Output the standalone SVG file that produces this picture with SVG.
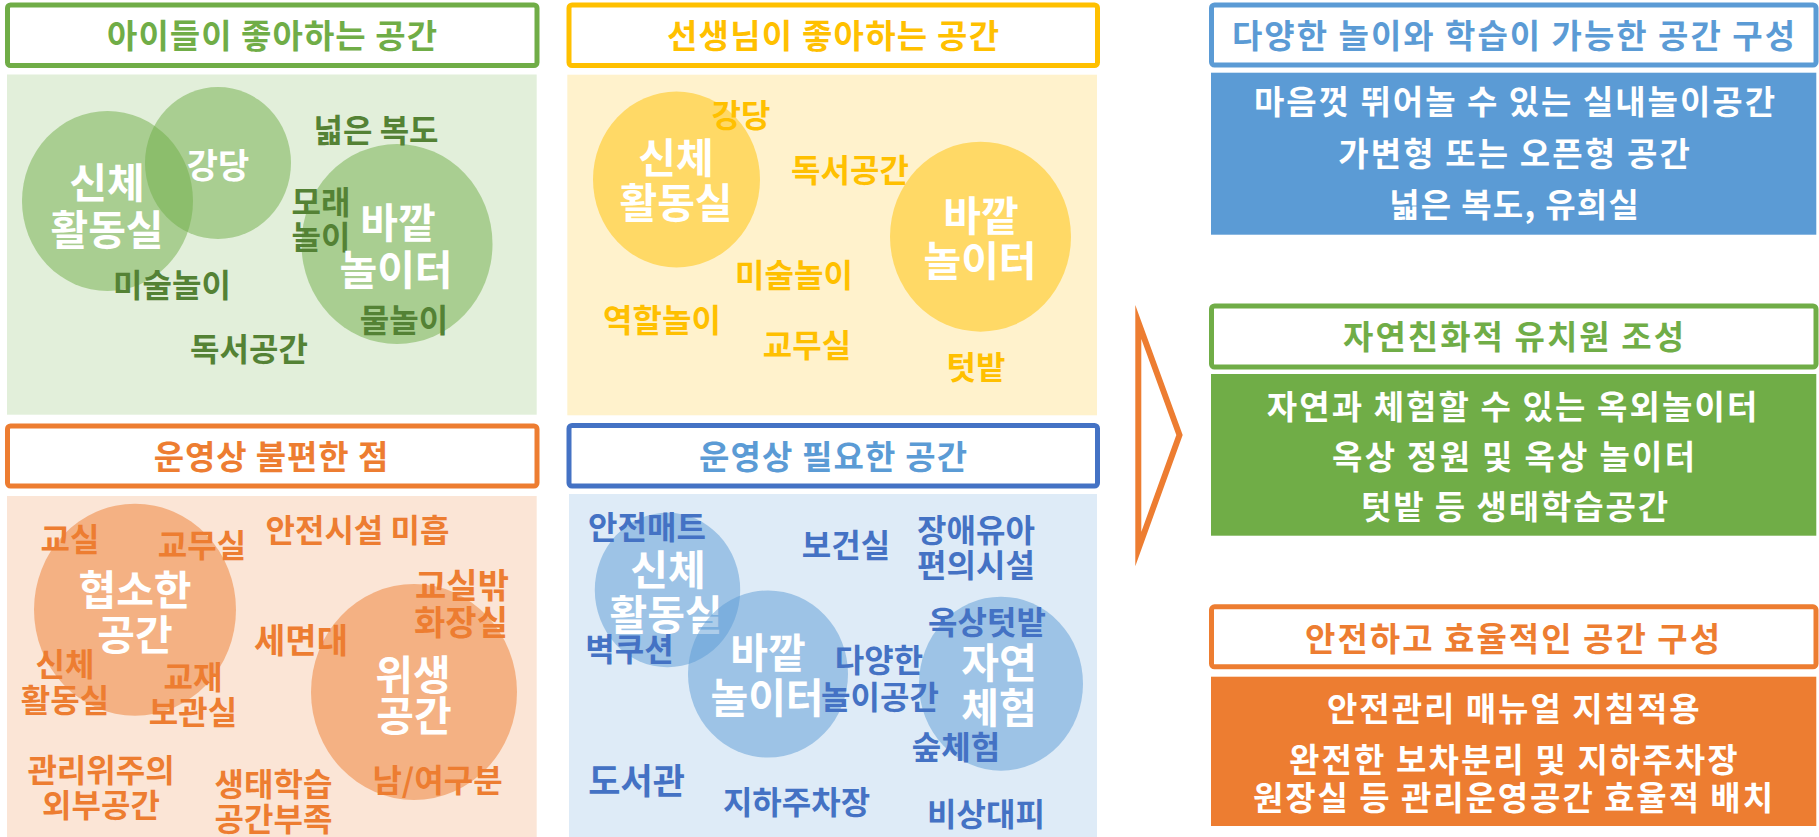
<svg xmlns="http://www.w3.org/2000/svg" width="1819" height="837" viewBox="0 0 1819 837">
<style>
text{font-family:"Noto Sans CJK KR","Noto Sans",sans-serif;font-weight:700;text-anchor:middle;dominant-baseline:central}
.tbox{fill:#fff;stroke-width:5}
.t{font-size:33px}
.l{font-size:32px}
.w{font-size:41px;fill:#fff}
.r{font-size:33px;fill:#fff}
.g{fill:#548235}.y{fill:#FFC000}.o{fill:#ED7D31}.b{fill:#4472C4}
</style>
<rect width="1819" height="837" fill="#fff"/>

<g id="panel-children">
<rect class="tbox" x="7.5" y="5" width="529.5" height="60.5" rx="3" stroke="#70AD47"/>
<text class="t" x="272" y="34" fill="#70AD47" textLength="330" lengthAdjust="spacing">아이들이 좋아하는 공간</text>
<rect x="7" y="74.5" width="529.7" height="340.2" fill="#E2EFDA"/>
<ellipse cx="107.5" cy="201" rx="85.5" ry="90" fill="#70AD47" fill-opacity="0.5"/>
<ellipse cx="218" cy="163" rx="73" ry="76" fill="#70AD47" fill-opacity="0.5"/>
<ellipse cx="397" cy="244" rx="95.5" ry="100" fill="#70AD47" fill-opacity="0.5"/>
<text class="w" x="107" y="180">신체</text>
<text class="w" x="107" y="227">활동실</text>
<text class="w" x="218" y="163" style="font-size:34px">강당</text>
<text class="l g" x="376" y="128">넓은 복도</text>
<text class="l g" x="321" y="200">모래</text>
<text class="l g" x="321" y="235">놀이</text>
<text class="w" x="398" y="220">바깥</text>
<text class="w" x="396" y="267">놀이터</text>
<text class="l g" x="172" y="283">미술놀이</text>
<text class="l g" x="404" y="318">물놀이</text>
<text class="l g" x="249" y="347">독서공간</text>
</g>

<g id="panel-teachers">
<rect class="tbox" x="569" y="5" width="528.5" height="60.5" rx="3" stroke="#FFC000"/>
<text class="t" x="833" y="34" fill="#FFC000" textLength="332" lengthAdjust="spacing">선생님이 좋아하는 공간</text>
<rect x="567.3" y="74.7" width="529.7" height="340.6" fill="#FFF2CC"/>
<ellipse cx="676.5" cy="179.5" rx="83.5" ry="88" fill="#FFD966"/>
<ellipse cx="980.5" cy="236.7" rx="90.5" ry="95" fill="#FFD966"/>
<text class="l y" x="741" y="113">강당</text>
<text class="w" x="676" y="155">신체</text>
<text class="w" x="676" y="200">활동실</text>
<text class="l y" x="850" y="168">독서공간</text>
<text class="w" x="981" y="213">바깥</text>
<text class="w" x="980" y="258">놀이터</text>
<text class="l y" x="794" y="273">미술놀이</text>
<text class="l y" x="662" y="318">역할놀이</text>
<text class="l y" x="807" y="343">교무실</text>
<text class="l y" x="976" y="365">텃밭</text>
</g>

<g id="panel-inconvenient">
<rect class="tbox" x="7.5" y="426" width="529.5" height="60" rx="3" stroke="#ED7D31"/>
<text class="t" x="271" y="455" fill="#ED7D31" textLength="234.6" lengthAdjust="spacing">운영상 불편한 점</text>
<rect x="7" y="496" width="529.7" height="341" fill="#FBE5D6"/>
<ellipse cx="135" cy="609.7" rx="101" ry="106" fill="#F4B183"/>
<ellipse cx="414" cy="692" rx="103" ry="108" fill="#F4B183"/>
<text class="l o" x="70" y="536.7">교실</text>
<text class="l o" x="202" y="543">교무실</text>
<text class="l o" x="357.5" y="528">안전시설 미흡</text>
<text class="w" x="135" y="586.7">협소한</text>
<text class="w" x="135" y="631.7">공간</text>
<text class="l o" x="462" y="583" style="font-size:34px">교실밖</text>
<text class="l o" x="461" y="620" style="font-size:34px">화장실</text>
<text class="l o" x="301" y="638" style="font-size:34px">세면대</text>
<text class="l o" x="65" y="661.7">신체</text>
<text class="l o" x="65" y="698">활동실</text>
<text class="l o" x="193" y="675">교재</text>
<text class="l o" x="193" y="710">보관실</text>
<text class="w" x="413" y="671.7">위생</text>
<text class="w" x="414" y="713">공간</text>
<text class="l o" x="101" y="768">관리위주의</text>
<text class="l o" x="101" y="803">외부공간</text>
<text class="l o" x="273.5" y="781.7">생태학습</text>
<text class="l o" x="273.5" y="816.7">공간부족</text>
<text class="l o" x="437.5" y="778">남/여구분</text>
</g>

<g id="panel-needed">
<rect class="tbox" x="569" y="425.5" width="528.5" height="60.5" rx="3" stroke="#4472C4"/>
<text class="t" x="833" y="455" fill="#5B9BD5" textLength="268" lengthAdjust="spacing">운영상 필요한 공간</text>
<rect x="569" y="494" width="528" height="343" fill="#DEEBF7"/>
<ellipse cx="667.5" cy="590" rx="72.7" ry="77.3" fill="#5B9BD5" fill-opacity="0.5"/>
<text class="w" x="668" y="566.7">신체</text>
<text class="w" x="666" y="611.7">활동실</text>
<ellipse cx="768" cy="674" rx="80" ry="83.5" fill="#5B9BD5" fill-opacity="0.5"/>
<ellipse cx="1001" cy="683.7" rx="82" ry="87" fill="#5B9BD5" fill-opacity="0.5"/>
<text class="l b" x="647" y="525">안전매트</text>
<text class="l b" x="846" y="543">보건실</text>
<text class="l b" x="976" y="528">장애유아</text>
<text class="l b" x="976" y="563">편의시설</text>
<text class="l b" x="987" y="620">옥상텃밭</text>
<text class="l b" x="629.5" y="646.7">벽쿠션</text>
<text class="w" x="768" y="650">바깥</text>
<text class="w" x="767" y="695">놀이터</text>
<text class="l b" x="879" y="658">다양한</text>
<text class="l b" x="880" y="695">놀이공간</text>
<text class="w" x="999" y="660">자연</text>
<text class="w" x="999" y="705">체험</text>
<text class="l b" x="956" y="745">숲체험</text>
<text class="l b" x="636.6" y="778" style="font-size:35px">도서관</text>
<text class="l b" x="796.5" y="800">지하주차장</text>
<text class="l b" x="986" y="811.7">비상대피</text>
</g>

<g id="connectors">
<polygon points="1138.3,322 1179.5,435 1138.3,549" fill="#fff" stroke="#ED7D31" stroke-width="6" stroke-miterlimit="10"/>
</g>

<g id="goal-play">
<rect class="tbox" x="1211.5" y="5" width="604.5" height="60" rx="3" stroke="#5B9BD5"/>
<text class="t" x="1513.5" y="34" fill="#5B9BD5" textLength="563" lengthAdjust="spacing">다양한 놀이와 학습이 가능한 공간 구성</text>
<rect x="1211" y="72.7" width="605.3" height="162" fill="#5B9BD5"/>
<text class="r" x="1514.5" y="100" textLength="521" lengthAdjust="spacing">마음껏 뛰어놀 수 있는 실내놀이공간</text>
<text class="r" x="1514" y="151.7" textLength="351.5" lengthAdjust="spacing">가변형 또는 오픈형 공간</text>
<text class="r" x="1514" y="203" textLength="249.5" lengthAdjust="spacing">넓은 복도, 유희실</text>
</g>

<g id="goal-nature">
<rect class="tbox" x="1211.5" y="306" width="604.5" height="61" rx="3" stroke="#70AD47"/>
<text class="t" x="1513.5" y="335" fill="#70AD47" textLength="341" lengthAdjust="spacing">자연친화적 유치원 조성</text>
<rect x="1211" y="374" width="605.3" height="161.7" fill="#70AD47"/>
<text class="r" x="1512" y="405" textLength="490.5" lengthAdjust="spacing">자연과 체험할 수 있는 옥외놀이터</text>
<text class="r" x="1513.5" y="455" textLength="363" lengthAdjust="spacing">옥상 정원 및 옥상 놀이터</text>
<text class="r" x="1514.5" y="505" textLength="307" lengthAdjust="spacing">텃밭 등 생태학습공간</text>
</g>

<g id="goal-safety">
<rect class="tbox" x="1211.5" y="606.8" width="604.5" height="60" rx="3" stroke="#ED7D31"/>
<text class="t" x="1512.5" y="636.7" fill="#ED7D31" textLength="415" lengthAdjust="spacing">안전하고 효율적인 공간 구성</text>
<rect x="1211" y="676.7" width="605.3" height="149.3" fill="#ED7D31"/>
<text class="r" x="1513.3" y="706.7" textLength="372.6" lengthAdjust="spacing">안전관리 매뉴얼 지침적용</text>
<text class="r" x="1513.3" y="758.3" textLength="448.5" lengthAdjust="spacing">완전한 보차분리 및 지하주차장</text>
<text class="r" x="1513" y="796" textLength="520" lengthAdjust="spacing">원장실 등 관리운영공간 효율적 배치</text>
</g>
</svg>
